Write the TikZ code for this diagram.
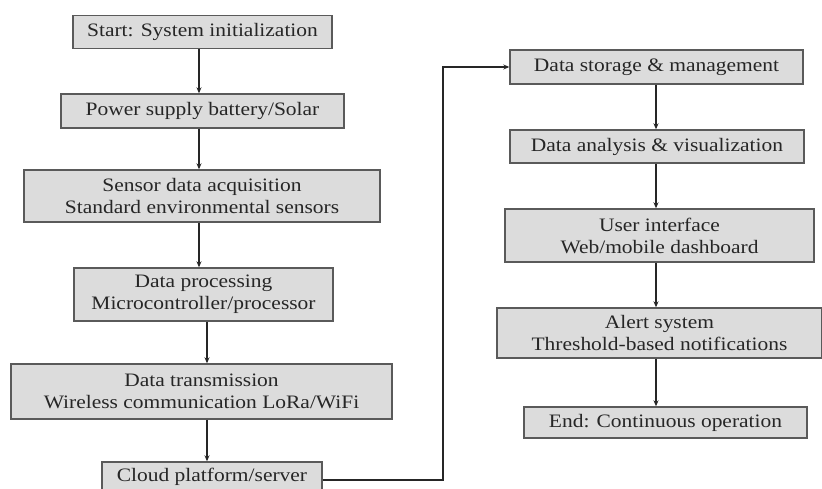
\documentclass[tikz,border=0pt]{standalone}
\usepackage{fontspec}
\setmainfont[FakeStretch=1.13]{Liberation Serif}
\usetikzlibrary{arrows.meta}
\definecolor{boxfill}{HTML}{DCDCDC}
\definecolor{boxdraw}{HTML}{5A5A5A}
\begin{document}
\begin{tikzpicture}[x=1pt,y=-1pt,
  box/.style={draw=boxdraw,fill=boxfill,line width=1.4pt,inner sep=0pt,align=center,
    font=\fontsize{19}{22}\selectfont,text=black!85},
  arr/.style={-{Stealth[length=6pt,width=5pt]},line width=1.3pt,draw=black!85}]
\useasboundingbox (0,0) rectangle (822,489);
% left column
\node[box,minimum width=259pt,minimum height=33pt] (start) at (202.5,32) {Start: System initialization};
\node[box,minimum width=283pt,minimum height=34pt] (power) at (202.5,111) {Power supply battery/Solar};
\node[box,minimum width=356pt,minimum height=52pt] (sensor) at (202,196) {Sensor data acquisition\\Standard environmental sensors};
\node[box,minimum width=259pt,minimum height=53pt] (proc) at (203.5,294.5) {Data processing\\Microcontroller/processor};
\node[box,minimum width=381pt,minimum height=55pt] (trans) at (201.5,391.5) {Data transmission\\Wireless communication LoRa/WiFi};
\node[box,minimum width=220pt,minimum height=30pt] (cloud) at (212,477) {Cloud platform/server};
% right column
\node[box,minimum width=293pt,minimum height=34pt] (storage) at (656.5,67) {Data storage \& management};
\node[box,minimum width=294pt,minimum height=33pt] (analysis) at (657,146.5) {Data analysis \& visualization};
\node[box,minimum width=309pt,minimum height=53pt] (ui) at (659.5,235.5) {User interface\\Web/mobile dashboard};
\node[box,minimum width=325pt,minimum height=50pt] (alert) at (659.5,333) {Alert system\\Threshold-based notifications};
\node[box,minimum width=283pt,minimum height=31pt] (end) at (665.5,422.5) {End: Continuous operation};
% connectors
\coordinate (lc) at (199,0);
\coordinate (lc2) at (207,0);
\coordinate (rc) at (656,0);
\draw[arr] (lc |- start.south) -- (lc |- power.north);
\draw[arr] (lc |- power.south) -- (lc |- sensor.north);
\draw[arr] (lc |- sensor.south) -- (lc |- proc.north);
\draw[arr] (lc2 |- proc.south) -- (lc2 |- trans.north);
\draw[arr] (lc2 |- trans.south) -- (lc2 |- cloud.north);
\draw[arr] (rc |- storage.south) -- (rc |- analysis.north);
\draw[arr] (rc |- analysis.south) -- (rc |- ui.north);
\draw[arr] (rc |- ui.south) -- (rc |- alert.north);
\draw[arr] (rc |- alert.south) -- (rc |- end.north);
\coordinate (bend) at (443,480);
\draw[arr] (cloud.east |- bend) -- (bend) |- (storage.west);
\end{tikzpicture}
\end{document}
